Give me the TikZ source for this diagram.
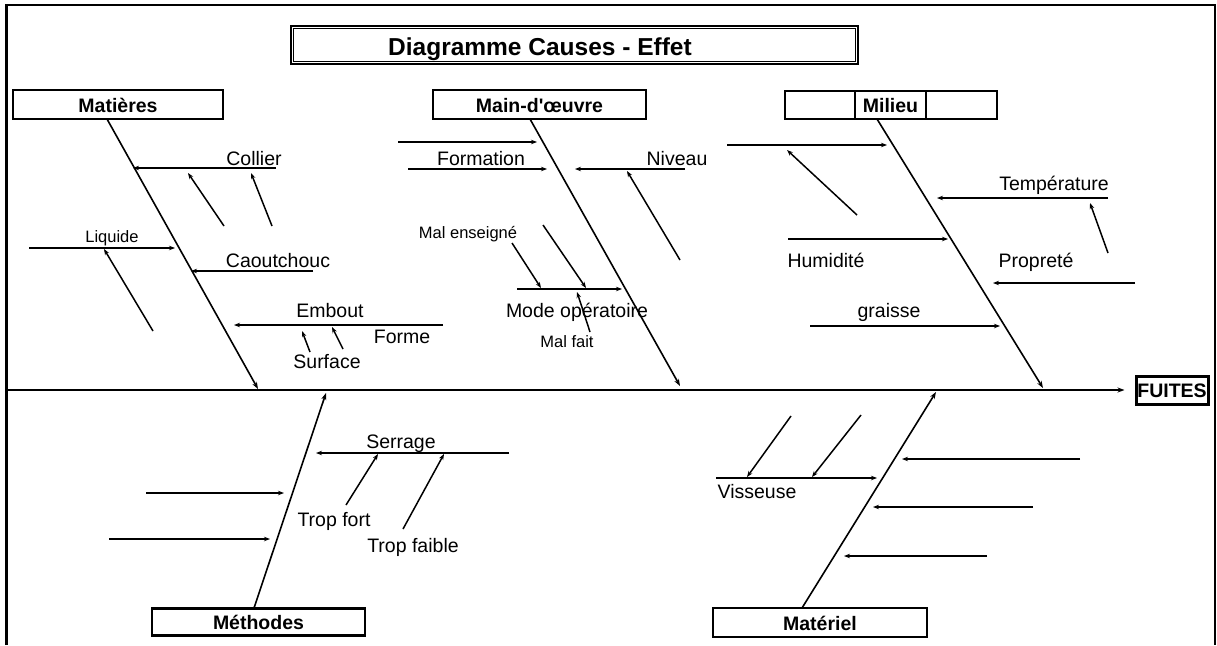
\documentclass[tikz,border=0pt]{standalone}
\usepackage{fontspec}
\setmainfont{Liberation Sans}[Ligatures=TeXOff]
\usetikzlibrary{arrows.meta}
\begin{document}
\begin{tikzpicture}[x=1pt,y=-1pt,
 lab/.style={font=\fontsize{19.5}{22}\selectfont,inner sep=0pt,anchor=base},
 slab/.style={font=\fontsize{16.5}{19}\selectfont,inner sep=0pt,anchor=base},
 boxn/.style={draw,line width=2.8pt,inner sep=0pt,font=\fontsize{19.5}{22}\selectfont\bfseries,text height=15.5pt,text depth=0pt,minimum height=29pt},
 bone/.style={line width=1.6pt,-{Stealth[length=7pt,width=5pt]}},
 arr/.style={line width=1.5pt,-{Stealth[length=6pt,width=4.5pt]}},
 frameline/.style={line width=2.4pt}]
\useasboundingbox (0,0) rectangle (1217,645);

% outer frame
\coordinate (f1) at (6.5,645); \coordinate (f2) at (6.5,5);
\coordinate (f3) at (1215,5);  \coordinate (f4) at (1215,645);
\draw[frameline] (f1) -- (f2) -- (f3) -- (f4);

% title
\node[draw,line width=2.8pt,minimum width=567pt,minimum height=38pt,inner sep=0pt] (title) at (574.5,45) {};
\draw[line width=1pt] ([shift={(4,4)}]title.north west) rectangle ([shift={(-4,-4)}]title.south east);
\node[font=\fontsize{24.5}{28}\selectfont\bfseries,inner sep=0pt,anchor=base] (titletxt) at (540,55) {Diagramme Causes - Effet};

% effect and spine
\node[boxn,minimum width=72pt,minimum height=28pt,line width=3pt] (fuites) at (1172,390) {FUITES};
\coordinate (sp0) at (6.5,390);
\draw[bone,shorten >=10pt] (sp0) -- (fuites.west);

% category boxes
\node[boxn,minimum width=210pt] (matb) at (118,104.5) {Matières};
\node[boxn,minimum width=213pt] (mainb) at (539.5,104.5) {Main-d'œuvre};
\node[boxn,minimum width=70pt,minimum height=28pt] (mil1) at (820,105) {};
\node[boxn,minimum width=71pt,minimum height=28pt] (mil2) at (890.5,105) {Milieu};
\node[boxn,minimum width=71pt,minimum height=28pt] (mil3) at (961.5,105) {};
\node[boxn,minimum width=213pt,minimum height=27pt] (methb) at (258.5,622) {Méthodes};
\node[boxn,minimum width=214pt] (matlb) at (820,622.5) {Matériel};

% ---------- Matières ----------
\coordinate (a1s) at (107,119); \coordinate (a1e) at (258,389);
\coordinate (a2s) at (276,168); \coordinate (a2e) at (133,168);
\coordinate (a3s) at (224,226); \coordinate (a3e) at (188,173);
\coordinate (a4s) at (272,226); \coordinate (a4e) at (251,173);
\coordinate (a5s) at (29,248);  \coordinate (a5e) at (175,248);
\coordinate (a6s) at (153,331); \coordinate (a6e) at (104,249);
\coordinate (a7s) at (313,271); \coordinate (a7e) at (191,271);
\coordinate (a8s) at (443,325); \coordinate (a8e) at (234,325);
\coordinate (a9s) at (310,352); \coordinate (a9e) at (302,331);
\coordinate (a10s) at (343,349); \coordinate (a10e) at (332,327);
\draw[bone] (a1s) -- (a1e);
\foreach \i in {2,...,10} {\draw[arr] (a\i s) -- (a\i e);}

\node[lab] (tcollier) at (254,165) {Collier};
\node[lab] (tcaout) at (278,267) {Caoutchouc};
\node[lab] (tembout) at (330,317) {Embout};
\node[lab] (tforme) at (402,343) {Forme};
\node[lab] (tsurface) at (327,368) {Surface};
\node[slab] (tliquide) at (112,242) {Liquide};

% ---------- Main-d'oeuvre ----------
\coordinate (b1s) at (530,119); \coordinate (b1e) at (680,386);
\coordinate (b2s) at (398,142); \coordinate (b2e) at (537,142);
\coordinate (b3s) at (408,169); \coordinate (b3e) at (547,169);
\coordinate (b4s) at (685,169); \coordinate (b4e) at (575,169);
\coordinate (b5s) at (680,260); \coordinate (b5e) at (627,171);
\coordinate (b6s) at (517,289); \coordinate (b6e) at (622,289);
\coordinate (b7s) at (512,243); \coordinate (b7e) at (541,288);
\coordinate (b8s) at (543,225); \coordinate (b8e) at (586,288);
\coordinate (b9s) at (590,332); \coordinate (b9e) at (577,292);
\draw[bone] (b1s) -- (b1e);
\foreach \i in {2,...,9} {\draw[arr] (b\i s) -- (b\i e);}

\node[lab] (tformation) at (481,165) {Formation};
\node[lab] (tniveau) at (677,165) {Niveau};
\node[slab] (tmalens) at (468,238) {Mal enseigné};
\node[lab] (tmode) at (577,317) {Mode opératoire};
\node[slab] (tmalfait) at (567,347) {Mal fait};

% ---------- Milieu ----------
\coordinate (c1s) at (877,119); \coordinate (c1e) at (1043,388);
\coordinate (c2s) at (727,145); \coordinate (c2e) at (887,145);
\coordinate (c3s) at (857,215); \coordinate (c3e) at (787,150);
\coordinate (c4s) at (1108,198); \coordinate (c4e) at (937,198);
\coordinate (c5s) at (1108,253); \coordinate (c5e) at (1090,203);
\coordinate (c6s) at (788,239); \coordinate (c6e) at (948,239);
\coordinate (c7s) at (1135,283); \coordinate (c7e) at (993,283);
\coordinate (c8s) at (810,326); \coordinate (c8e) at (1000,326);
\draw[bone] (c1s) -- (c1e);
\foreach \i in {2,...,8} {\draw[arr] (c\i s) -- (c\i e);}

\node[lab] (ttemp) at (1054,190) {Température};
\node[lab] (thum) at (826,267) {Humidité};
\node[lab] (tprop) at (1036,267) {Propreté};
\node[lab] (tgraisse) at (889,317) {graisse};

% ---------- Méthodes ----------
\coordinate (d1s) at (254,608); \coordinate (d1e) at (326,393);
\coordinate (d2s) at (509,453); \coordinate (d2e) at (316,453);
\coordinate (d3s) at (346,505); \coordinate (d3e) at (378,454);
\coordinate (d4s) at (403,529); \coordinate (d4e) at (444,454);
\coordinate (d5s) at (146,493); \coordinate (d5e) at (284,493);
\coordinate (d6s) at (109,539); \coordinate (d6e) at (270,539);
\draw[bone] (d1s) -- (d1e);
\foreach \i in {2,...,6} {\draw[arr] (d\i s) -- (d\i e);}

\node[lab] (tserrage) at (401,448) {Serrage};
\node[lab] (ttropfort) at (334,526) {Trop fort};
\node[lab] (ttropfaible) at (413,552) {Trop faible};

% ---------- Matériel ----------
\coordinate (e1s) at (802,608); \coordinate (e1e) at (936,392);
\coordinate (e2s) at (716,478); \coordinate (e2e) at (877,478);
\coordinate (e3s) at (791,416); \coordinate (e3e) at (747,477);
\coordinate (e4s) at (861,415); \coordinate (e4e) at (812,477);
\coordinate (e5s) at (1080,459); \coordinate (e5e) at (902,459);
\coordinate (e6s) at (1033,507); \coordinate (e6e) at (873,507);
\coordinate (e7s) at (987,556); \coordinate (e7e) at (844,556);
\draw[bone] (e1s) -- (e1e);
\foreach \i in {2,...,7} {\draw[arr] (e\i s) -- (e\i e);}

\node[lab] (tvisseuse) at (757,498) {Visseuse};
\end{tikzpicture}
\end{document}
